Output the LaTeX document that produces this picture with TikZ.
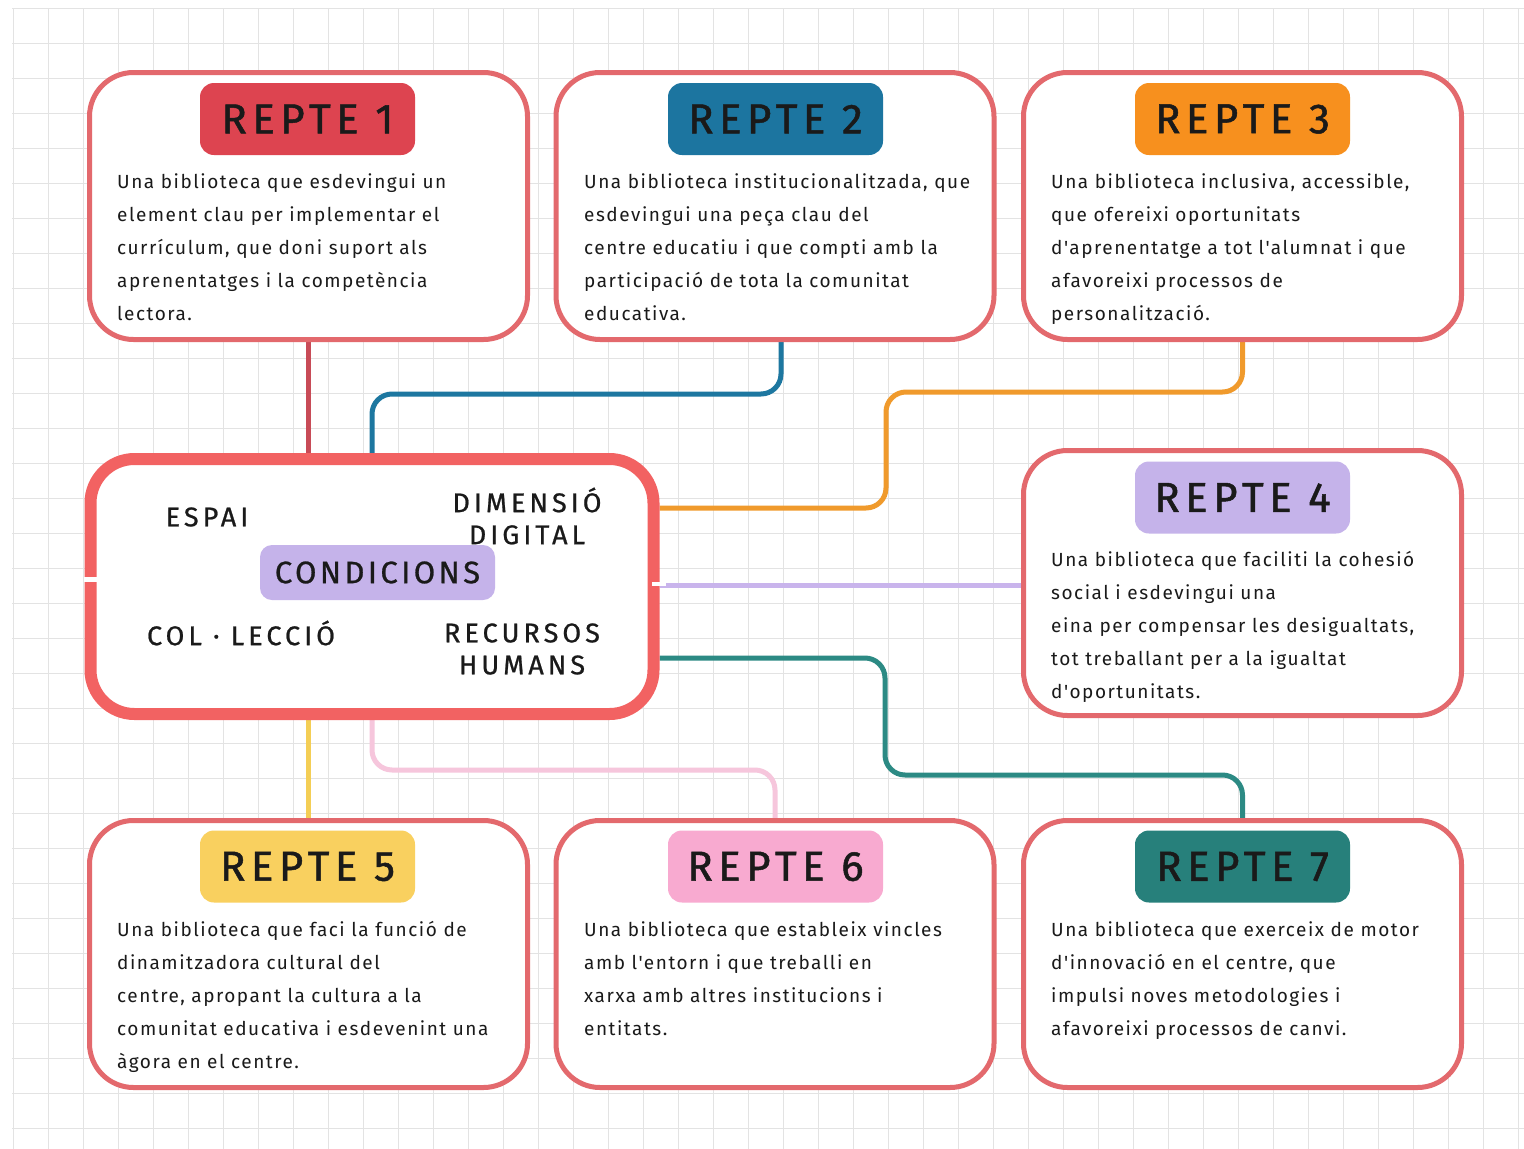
\documentclass[tikz,border=0pt]{standalone}
\usepackage{fontspec}
\setmainfont{Fira Sans}
\newfontfamily\titlefont[LetterSpace=13, FakeBold=1.2]{Fira Sans}
\newfontfamily\centerfont[LetterSpace=15, FakeBold=0.8]{Fira Sans}
\newfontfamily\condfont[LetterSpace=11, FakeBold=0.8]{Fira Sans}
\newfontfamily\bodyfont[LetterSpace=8]{Fira Sans}
\usetikzlibrary{calc,backgrounds}
\definecolor{boxred}{HTML}{E3696D}
\definecolor{cred}{HTML}{F26262}
\definecolor{pred}{HTML}{DD4450}
\definecolor{pblue}{HTML}{1C75A0}
\definecolor{porange}{HTML}{F7901E}
\definecolor{plav}{HTML}{C5B3EA}
\definecolor{pyellow}{HTML}{F9D05F}
\definecolor{ppink}{HTML}{F8AAD0}
\definecolor{pteal}{HTML}{27807B}
\definecolor{lred}{HTML}{C84B57}
\definecolor{lblue}{HTML}{1D77A0}
\definecolor{lorange}{HTML}{F09A2C}
\definecolor{llav}{HTML}{C9B4EC}
\definecolor{lteal}{HTML}{2C8A84}
\definecolor{lyellow}{HTML}{F4CE55}
\definecolor{lpink}{HTML}{F6C6DC}
\definecolor{gridc}{HTML}{E3E3E3}
\definecolor{txt}{HTML}{1A1A1A}
\tikzset{
  rbox/.style={draw=boxred, line width=5pt, fill=white, rounded corners=44pt,
    minimum width=438pt, minimum height=267pt, inner sep=0pt},
  pill/.style={rounded corners=14pt, minimum width=215pt, minimum height=72pt,
    inner sep=0pt, font=\titlefont\fontsize{42}{42}\selectfont, text=txt},
  bodytext/.style={anchor=north west, inner sep=0pt, align=left,
    font=\bodyfont\fontsize{19}{33}\selectfont, text=txt},
  ctext/.style={inner sep=0pt, align=center,
    font=\centerfont\fontsize{27}{32}\selectfont, text=txt},
  con/.style={line width=5pt, rounded corners=20pt}
}
\begin{document}
\begin{tikzpicture}[x=1pt,y=-1pt]
\useasboundingbox (0,0) rectangle (1524,1149);
% boxes
\node[rbox] (b1) at (308.5,206) {};
\node[rbox] (b2) at (775,206) {};
\node[rbox] (b3) at (1242.5,206) {};
\node[rbox, minimum height=265pt] (b4) at (1242.5,583) {};
\node[rbox] (b5) at (308.5,954) {};
\node[rbox] (b6) at (775,954) {};
\node[rbox] (b7) at (1242.5,954) {};
\node[draw=cred, line width=12pt, fill=white, rounded corners=44pt,
  minimum width=563pt, minimum height=255pt, inner sep=0pt] (c) at (372,586.5) {};
\fill[white] (84,577) rectangle (98,582);
\fill[white] (652,582) rectangle (666,586);
% pills
\node[pill, fill=pred] (p1) at (307.5,119) {REPTE 1};
\node[pill, fill=pblue] (p2) at (775.5,119) {REPTE 2};
\node[pill, fill=porange] (p3) at (1242.5,119) {REPTE 3};
\node[pill, fill=plav] (p4) at (1242.5,497.5) {REPTE 4};
\node[pill, fill=pyellow] (p5) at (307.5,866.5) {REPTE 5};
\node[pill, fill=ppink] (p6) at (775.5,866.5) {REPTE 6};
\node[pill, fill=pteal] (p7) at (1242.5,866.5) {REPTE 7};
% body texts
\node[bodytext] (t1) at (117,173) {Una biblioteca que esdevingui un\\element clau per implementar el\\currículum, que doni suport als\\aprenentatges i la competència\\lectora.};
\node[bodytext] (t2) at (584,173) {Una biblioteca institucionalitzada, que\\esdevingui una peça clau del\\centre educatiu i que compti amb la\\participació de tota la comunitat\\educativa.};
\node[bodytext] (t3) at (1051,173) {Una biblioteca inclusiva, accessible,\\que ofereixi oportunitats\\d'aprenentatge a tot l'alumnat i que\\afavoreixi processos de\\personalització.};
\node[bodytext] (t4) at (1051,551) {Una biblioteca que faciliti la cohesió\\social i esdevingui una\\eina per compensar les desigualtats,\\tot treballant per a la igualtat\\d'oportunitats.};
\node[bodytext] (t5) at (117,921) {Una biblioteca que faci la funció de\\dinamitzadora cultural del\\centre, apropant la cultura a la\\comunitat educativa i esdevenint una\\àgora en el centre.};
\node[bodytext] (t6) at (584,921) {Una biblioteca que estableix vincles\\amb l'entorn i que treballi en\\xarxa amb altres institucions i\\entitats.};
\node[bodytext] (t7) at (1051,921) {Una biblioteca que exerceix de motor\\d'innovació en el centre, que\\impulsi noves metodologies i\\afavoreixi processos de canvi.};
% center texts
\node[ctext] (espai) at (207,517) {ESPAI};
\node[ctext] (dig) at (527,516) {DIMENSIÓ\\DIGITAL};
\node[ctext, fill=plav, rounded corners=12pt, minimum width=235pt, minimum height=55pt,
  font=\condfont\fontsize{31}{31}\selectfont] (cond) at (377.5,572.5) {CONDICIONS};
\node[ctext] (col) at (241,633) {COL · LECCIÓ};
\node[ctext] (rh) at (522,649) {RECURSOS\\HUMANS};
% background: grid and connectors
\begin{pgfonlayer}{background}
\fill[white] (0,0) rectangle (1524,1149);
\foreach \i in {0,...,43} {
  \draw[gridc, line width=1pt] ({13+35*\i},8) -- ({13+35*\i},1149);
}
\foreach \j in {0,...,32} {
  \draw[gridc, line width=1pt] (12,{8+35*\j}) -- (1524,{8+35*\j});
}
\coordinate (ob) at (886,508);
\coordinate (tt) at (885,775);
\draw[con, draw=lred] (b1.south) -- (c.north -| b1.south);
\draw[con, draw=lblue] ($(b2.south)+(6,0)$) -- ++(0,52) -| (c.north);
\draw[con, draw=lorange] (b3.south) -- ++(0,50) -| (ob) -- (c.east |- ob);
\draw[con, draw=llav] ($(c.east)+(0,-1.5)$) -- ($(c.east -| b4.west)+(0,-1.5)$);
\draw[con, draw=lteal] ($(c.east)+(0,71.5)$) -| (tt) -| (b7.north);
\draw[con, draw=lyellow] (c.south -| b5.north) -- (b5.north);
\draw[con, draw=lpink] (c.south) -- ++(0,50) -| (b6.north);
\end{pgfonlayer}
\end{tikzpicture}
\end{document}
